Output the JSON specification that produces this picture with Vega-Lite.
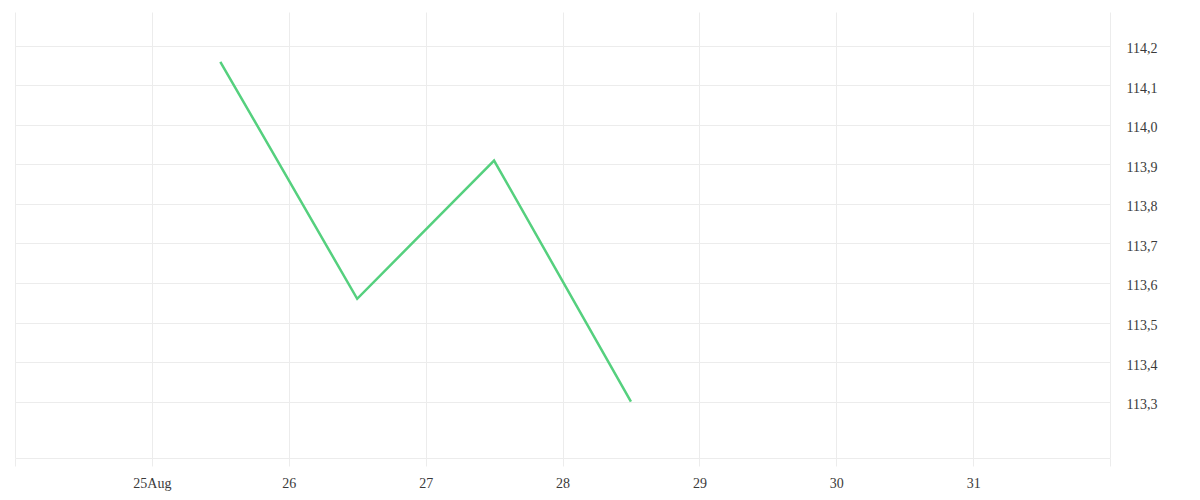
{
  "$schema": "https://vega.github.io/schema/vega-lite/v6.json",
  "width": 1095,
  "height": 446,
  "padding": {"left": 15, "top": 12, "right": 90, "bottom": 42},
  "autosize": {"type": "none"},
  "background": "white",
  "config": {
    "view": {"stroke": null},
    "font": "Liberation Serif",
    "locale": {
      "number": {"decimal": ",", "thousands": ".", "grouping": [3], "currency": ["", " €"]}
    }
  },
  "data": {
    "values": [
      {"date": "2023-08-25T12:00:00Z", "price": 114.16},
      {"date": "2023-08-26T12:00:00Z", "price": 113.56},
      {"date": "2023-08-27T12:00:00Z", "price": 113.91},
      {"date": "2023-08-28T12:00:00Z", "price": 113.30}
    ]
  },
  "mark": {"type": "line", "color": "#55d07e", "strokeWidth": 2.5},
  "encoding": {
    "x": {
      "field": "date",
      "type": "temporal",
      "title": null,
      "scale": {
        "type": "utc",
        "domain": [
          {"year": 2023, "month": 8, "date": 24, "utc": true},
          {"year": 2023, "month": 9, "date": 1, "utc": true}
        ]
      },
      "axis": {
        "values": [
          {"year": 2023, "month": 8, "date": 24, "utc": true},
          {"year": 2023, "month": 8, "date": 25, "utc": true},
          {"year": 2023, "month": 8, "date": 26, "utc": true},
          {"year": 2023, "month": 8, "date": 27, "utc": true},
          {"year": 2023, "month": 8, "date": 28, "utc": true},
          {"year": 2023, "month": 8, "date": 29, "utc": true},
          {"year": 2023, "month": 8, "date": 30, "utc": true},
          {"year": 2023, "month": 8, "date": 31, "utc": true},
          {"year": 2023, "month": 9, "date": 1, "utc": true}
        ],
        "labelExpr": "utcdate(datum.value) == 25 ? '25Aug' : (utcdate(datum.value) == 24 || utcdate(datum.value) == 1 ? '' : utcFormat(datum.value, '%d'))",
        "grid": true,
        "gridColor": "#ececec",
        "domainColor": "#ececec",
        "tickColor": "#ececec",
        "tickSize": 8,
        "labelFontSize": 14,
        "labelColor": "#3a3a3a",
        "labelPadding": 10,
        "labelFlush": false
      }
    },
    "y": {
      "field": "price",
      "type": "quantitative",
      "title": null,
      "scale": {"domain": [113.157, 114.286], "nice": false, "zero": false},
      "axis": {
        "orient": "right",
        "values": [113.3, 113.4, 113.5, 113.6, 113.7, 113.8, 113.9, 114.0, 114.1, 114.2],
        "format": ".1f",
        "grid": true,
        "gridColor": "#ececec",
        "domain": false,
        "ticks": false,
        "labelPadding": 16,
        "labelFontSize": 14,
        "labelOffset": 3,
        "labelColor": "#3a3a3a"
      }
    }
  }
}
